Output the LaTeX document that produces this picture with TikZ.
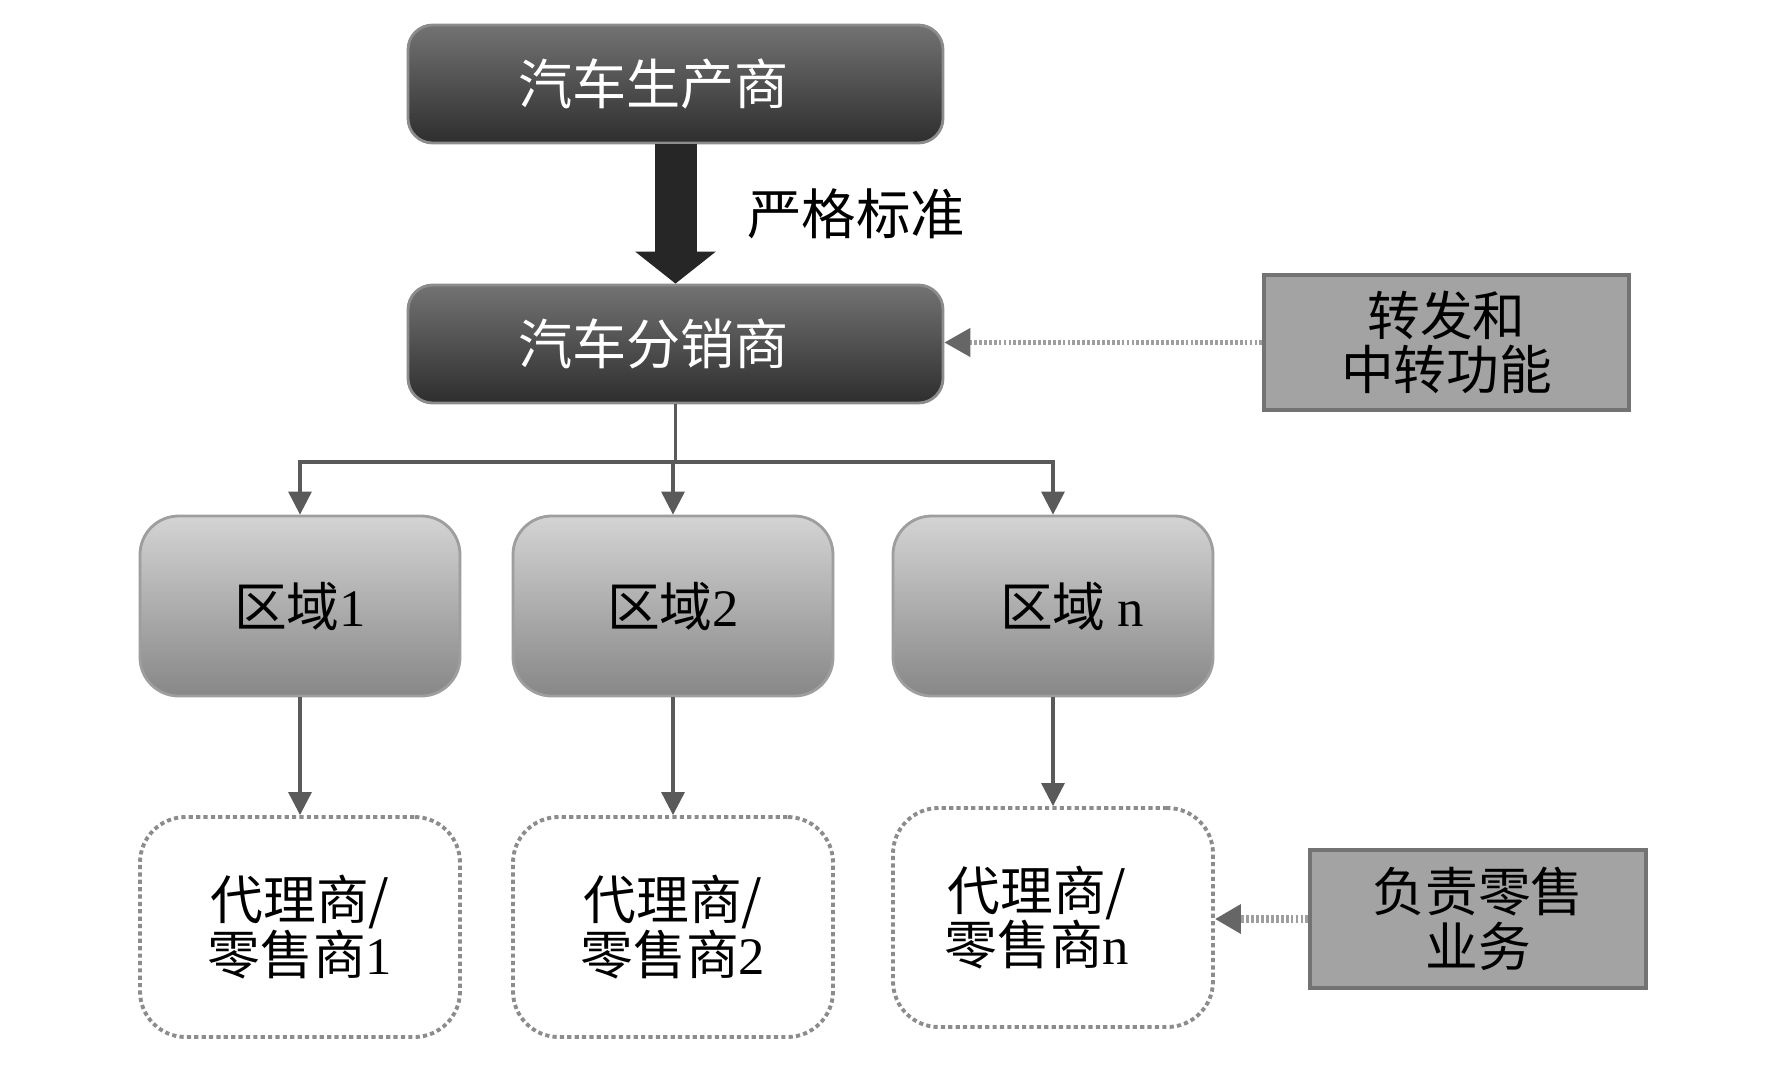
\documentclass[tikz,border=0pt]{standalone}
\usepackage{fontspec}
\setmainfont{Liberation Serif}
\newfontfamily\cjk{Noto Sans CJK SC}
\usetikzlibrary{arrows.meta,positioning}
\definecolor{sidebox}{HTML}{A3A3A3}
\definecolor{linkgray}{HTML}{5A5A5A}

\begin{document}
\begin{tikzpicture}[
    darknode/.style={rounded corners=7pt,top color=black!55,bottom color=black!82,draw=black!45,line width=0.8pt,
      minimum width=5.35cm,minimum height=1.18cm,text=white,font=\cjk\fontsize{15.4}{18}\selectfont},
    regionnode/.style={rounded corners=11pt,top color=black!17,bottom color=black!47,draw=black!38,line width=0.8pt,
      minimum width=3.2cm,minimum height=1.8cm,font=\cjk\fontsize{15}{18}\selectfont},
    dealernode/.style={rounded corners=13pt,draw=black!45,dash pattern=on 1.2pt off 0.9pt,line width=1.1pt,fill=white,
      minimum width=3.2cm,minimum height=2.2cm,align=center,font=\cjk\fontsize{15}{15.5}\selectfont},
    sidenode/.style={fill=sidebox,draw=black!55,line width=1pt,minimum width=3.5cm,minimum height=1.35cm,
      align=center,font=\cjk\fontsize{15}{15.5}\selectfont},
    link/.style={draw=linkgray,line width=0.9pt,-{Triangle[length=2.3mm,width=2.3mm]}},
    hint/.style={draw=black!38,line width=1.3pt,dash pattern=on 0.8pt off 0.6pt,
      -{Triangle[length=2.6mm,width=2.8mm,color=black!60]}},
    bigarrow/.style={draw=black!85,line width=4.2mm,-{Triangle[length=3.2mm,width=7.9mm]}}
  ]
  \fill[white] (0,0) rectangle (17.66,10.84);
  \useasboundingbox (0,0) rectangle (17.66,10.84);

  % top of the chain
  \node[darknode] (maker) at (6.755,10.0) {汽车生产商\hspace*{0.44cm}};
  \node[darknode] (distrib) at (6.755,7.40) {汽车分销商\hspace*{0.44cm}};
  \draw[bigarrow] (maker.south) -- (distrib.north);
  \node[font=\cjk\fontsize{15.5}{18}\selectfont] (rule) at (8.56,8.70) {严格标准};

  \node[sidenode,minimum width=3.65cm] (relay) at (14.465,7.415) {转发和\\中转功能};
  \draw[hint] (relay.west) -- (distrib.east |- relay.west);

  % regions
  \node[regionnode] (region1) at (3.00,4.78) {区域\textrm{1}};
  \node[regionnode] (region2) at (6.73,4.78) {区域\textrm{2}};
  \node[regionnode] (regionn) at (10.53,4.78) {\hspace*{0.38cm}区域 \textrm{n}};

  \coordinate (split) at (6.755,6.22);
  \draw[draw=linkgray,line width=0.9pt] (distrib.south) -- (split);
  \draw[link] (split) -| (region1.north);
  \draw[link] (split -| region2.north) -- (region2.north);
  \draw[link] (split) -| (regionn.north);

  % dealers
  \node[dealernode] (dealer1) at (3.00,1.57) {代理商/\\零售商\textrm{1}};
  \node[dealernode] (dealer2) at (6.73,1.57) {代理商/\\零售商\textrm{2}};
  \node[dealernode,minimum height=2.19cm] (dealern) at (10.53,1.665) {代理商/\hspace*{0.32cm}\\零售商\textrm{n}\hspace*{0.32cm}};

  \draw[link] (region1.south) -- (dealer1.north);
  \draw[link] (region2.south) -- (dealer2.north);
  \draw[link] (regionn.south) -- (dealern.north);

  \node[sidenode,minimum width=3.36cm,minimum height=1.38cm] (retail) at (14.78,1.65) {负责零售\\业务};
  \draw[hint,line width=2pt] (retail.west) -- (dealern.east |- retail.west);
\end{tikzpicture}
\end{document}
